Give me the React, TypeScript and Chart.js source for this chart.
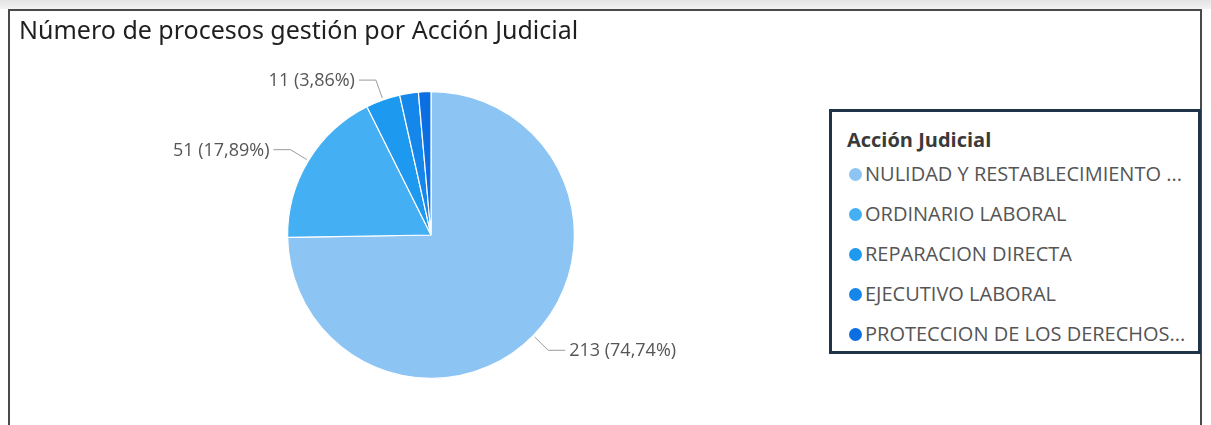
import React, { useEffect, useRef } from "react";
import { Chart, registerables } from "chart.js";

Chart.register(...registerables);

const title = "Número de procesos gestión por Acción Judicial";
const legendTitle = "Acción Judicial";
const categories = [
  "NULIDAD Y RESTABLECIMIENTO DEL DERECHO",
  "ORDINARIO LABORAL",
  "REPARACION DIRECTA",
  "EJECUTIVO LABORAL",
  "PROTECCION DE LOS DERECHOS E INTERESES COLECTIVOS",
];
const legendLabels = [
  "NULIDAD Y RESTABLECIMIENTO ...",
  "ORDINARIO LABORAL",
  "REPARACION DIRECTA",
  "EJECUTIVO LABORAL",
  "PROTECCION DE LOS DERECHOS...",
];
const values = [213, 51, 11, 6, 4];
const colors = ["#8CC5F4", "#45AFF3", "#1D9AEF", "#1586EA", "#0B6FE2"];
const labeledSlices = [0, 1, 2];

const fmtPct = (v: number, total: number) =>
  (Math.round((v / total) * 10000) / 100).toFixed(2).replace(".", ",");

const labelPlugin = {
  id: "outsideLabels",
  afterDatasetsDraw(chart: any) {
    const ctx = chart.ctx;
    const meta = chart.getDatasetMeta(0);
    const total = values.reduce((a, b) => a + b, 0);
    ctx.save();
    ctx.font = "18px 'Open Sans', sans-serif";
    ctx.fillStyle = "#555555";
    ctx.strokeStyle = "#9a9a9a";
    ctx.lineWidth = 1;
    ctx.textBaseline = "middle";
    labeledSlices.forEach((i) => {
      const arc = meta.data[i];
      const { x, y, outerRadius, startAngle, endAngle } = arc.getProps(
        ["x", "y", "outerRadius", "startAngle", "endAngle"],
        true
      );
      const mid = (startAngle + endAngle) / 2;
      const cos = Math.cos(mid);
      const sin = Math.sin(mid);
      const p0x = x + (outerRadius + 2) * cos;
      const p0y = y + (outerRadius + 2) * sin;
      const p1x = x + (outerRadius + 21) * cos;
      const p1y = y + (outerRadius + 21) * sin;
      const right = cos >= 0;
      const p2x = p1x + (right ? 17 : -17);
      ctx.beginPath();
      ctx.moveTo(p0x, p0y);
      ctx.lineTo(p1x, p1y);
      ctx.lineTo(p2x, p1y);
      ctx.stroke();
      const text = `${values[i]} (${fmtPct(values[i], total)}%)`;
      ctx.textAlign = right ? "left" : "right";
      ctx.fillText(text, p2x + (right ? 4 : -4), p1y + 1);
    });
    ctx.restore();
  },
};

export default function App() {
  const canvasRef = useRef<HTMLCanvasElement | null>(null);

  useEffect(() => {
    document.body.style.margin = "0";
    const chart = new Chart(canvasRef.current as HTMLCanvasElement, {
      type: "pie",
      data: {
        labels: categories,
        datasets: [
          {
            data: values,
            backgroundColor: colors,
            borderColor: "#ffffff",
            borderWidth: 1.2,
          },
        ],
      },
      options: {
        animation: false,
        responsive: false,
        maintainAspectRatio: false,
        layout: { padding: { left: 287, right: 636, top: 91, bottom: 46 } },
        plugins: {
          legend: { display: false },
          tooltip: { enabled: false },
          title: { display: false },
        },
      },
      plugins: [labelPlugin],
    });
    return () => chart.destroy();
  }, []);

  return (
    <div
      style={{
        position: "fixed",
        left: 0,
        top: 0,
        width: 1211,
        height: 425,
        background: "#ffffff",
        overflow: "hidden",
        fontFamily: "'Open Sans', sans-serif",
      }}
    >
      <div
        style={{
          position: "absolute",
          left: 0,
          top: 0,
          width: 1211,
          height: 9,
          background: "linear-gradient(#e4e4e4, #f2f2f2)",
        }}
      />
      <div
        style={{
          position: "absolute",
          left: 8,
          top: 9,
          width: 1194,
          height: 430,
          border: "2px solid #4a4a4a",
          boxSizing: "border-box",
        }}
      />
      <canvas
        ref={canvasRef}
        width={1211}
        height={425}
        style={{ position: "absolute", left: 0, top: 0, width: 1211, height: 425 }}
      />
      <div
        style={{
          position: "absolute",
          left: 19,
          top: 11,
          fontSize: 25,
          color: "#1f1f1f",
          fontFamily: "'Noto Sans', sans-serif",
          whiteSpace: "nowrap",
          lineHeight: "36px",
        }}
      >
        {title}
      </div>
      <div
        style={{
          position: "absolute",
          left: 829,
          top: 109,
          width: 372,
          height: 245,
          border: "3px solid #1f3349",
          boxSizing: "border-box",
          background: "#ffffff",
        }}
      >
        <div
          style={{
            position: "absolute",
            left: 15,
            top: 14,
            fontSize: 20,
            lineHeight: "28px",
            fontWeight: 700,
            color: "#3a3a3a",
            whiteSpace: "nowrap",
          }}
        >
          {legendTitle}
        </div>
        {legendLabels.map((lab, i) => (
          <div
            key={lab}
            style={{
              position: "absolute",
              left: 17,
              top: 48 + i * 40,
              height: 28,
              display: "flex",
              alignItems: "center",
              whiteSpace: "nowrap",
              fontSize: 20,
              lineHeight: "28px",
              color: "#555555",
            }}
          >
            <span
              style={{
                display: "inline-block",
                width: 13,
                height: 13,
                borderRadius: "50%",
                background: colors[i],
                marginRight: 3,
              }}
            />
            {lab}
          </div>
        ))}
      </div>
    </div>
  );
}
